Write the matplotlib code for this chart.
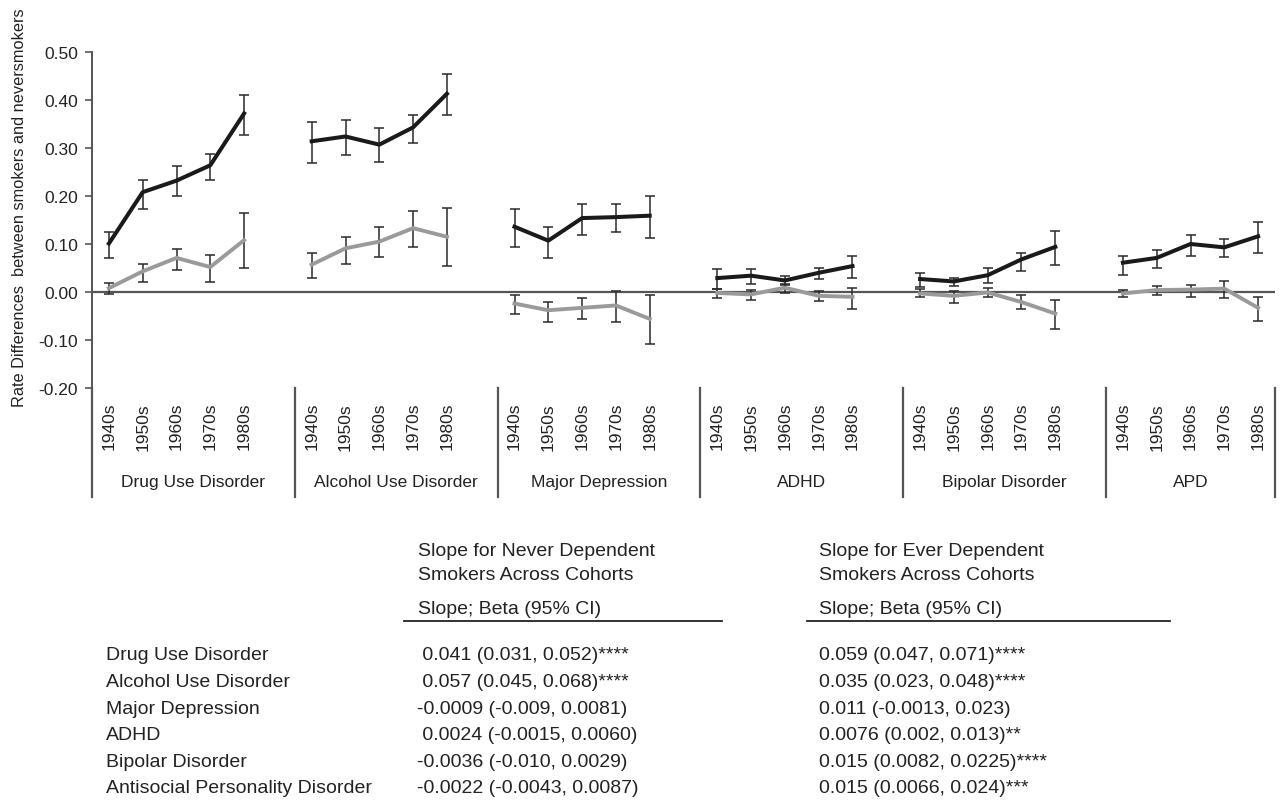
import matplotlib
matplotlib.use("Agg")
import matplotlib.pyplot as plt
import matplotlib.transforms as mtransforms

plt.rcParams['font.family'] = ['Liberation Sans', 'DejaVu Sans']

groups = ["Drug Use Disorder", "Alcohol Use Disorder", "Major Depression",
          "ADHD", "Bipolar Disorder", "APD"]
decades = ["1940s", "1950s", "1960s", "1970s", "1980s"]

# Ever dependent smokers (black)
ever_rd = [
    [0.101, 0.208, 0.232, 0.264, 0.372],
    [0.314, 0.324, 0.307, 0.343, 0.413],
    [0.136, 0.107, 0.154, 0.156, 0.159],
    [0.029, 0.034, 0.024, 0.040, 0.054],
    [0.027, 0.022, 0.035, 0.068, 0.094],
    [0.061, 0.071, 0.100, 0.093, 0.116]]
ever_lo = [
    [0.070, 0.172, 0.200, 0.234, 0.327],
    [0.269, 0.285, 0.271, 0.310, 0.369],
    [0.094, 0.070, 0.119, 0.125, 0.113],
    [0.007, 0.016, 0.014, 0.027, 0.029],
    [0.010, 0.012, 0.018, 0.044, 0.057],
    [0.036, 0.051, 0.076, 0.073, 0.082]]
ever_hi = [
    [0.124, 0.234, 0.262, 0.287, 0.411],
    [0.355, 0.359, 0.341, 0.369, 0.455],
    [0.172, 0.135, 0.183, 0.183, 0.201],
    [0.047, 0.047, 0.034, 0.051, 0.076],
    [0.040, 0.030, 0.051, 0.082, 0.127],
    [0.076, 0.087, 0.119, 0.110, 0.146]]

# Never dependent smokers (gray)
never_rd = [
    [0.008, 0.043, 0.071, 0.052, 0.108],
    [0.057, 0.091, 0.105, 0.133, 0.115],
    [-0.024, -0.038, -0.033, -0.028, -0.056],
    [-0.002, -0.005, 0.009, -0.008, -0.010],
    [-0.003, -0.008, -0.001, -0.021, -0.045],
    [-0.003, 0.004, 0.005, 0.007, -0.033]]
never_lo = [
    [-0.005, 0.020, 0.045, 0.020, 0.050],
    [0.029, 0.059, 0.073, 0.094, 0.054],
    [-0.046, -0.062, -0.056, -0.062, -0.109],
    [-0.013, -0.016, -0.003, -0.019, -0.036],
    [-0.010, -0.022, -0.010, -0.036, -0.077],
    [-0.010, -0.007, -0.010, -0.013, -0.061]]
never_hi = [
    [0.019, 0.059, 0.090, 0.078, 0.164],
    [0.082, 0.115, 0.135, 0.169, 0.174],
    [-0.007, -0.021, -0.012, 0.002, -0.007],
    [0.007, 0.004, 0.016, 0.002, 0.008],
    [0.007, 0.002, 0.009, -0.007, -0.017],
    [0.005, 0.012, 0.014, 0.023, -0.010]]

yticks = [0.50, 0.40, 0.30, 0.20, 0.10, 0.00, -0.10, -0.20]
ylabel = "Rate Differences  between smokers and neversmokers"

table_rows = ["Drug Use Disorder", "Alcohol Use Disorder", "Major Depression",
              "ADHD", "Bipolar Disorder", "Antisocial Personality Disorder"]
never_slopes = [" 0.041 (0.031, 0.052)****", " 0.057 (0.045, 0.068)****",
                "-0.0009 (-0.009, 0.0081)", " 0.0024 (-0.0015, 0.0060)",
                "-0.0036 (-0.010, 0.0029)", "-0.0022 (-0.0043, 0.0087)"]
ever_slopes = ["0.059 (0.047, 0.071)****", "0.035 (0.023, 0.048)****",
               "0.011 (-0.0013, 0.023)", "0.0076 (0.002, 0.013)**",
               "0.015 (0.0082, 0.0225)****", "0.015 (0.0066, 0.024)***"]
col_headers = [("Slope for Never Dependent", "Smokers Across Cohorts"),
               ("Slope for Ever Dependent", "Smokers Across Cohorts")]
sub_header = "Slope; Beta (95% CI)"

W, H = 1282, 804
fig = plt.figure(figsize=(W / 100, H / 100), dpi=100)

def fx(px):
    return px / W

def fy(py):
    return 1 - py / H

ax_l, ax_r, ax_t, ax_b = 92, 1275, 53, 389
ax = fig.add_axes([fx(ax_l), fy(ax_b), fx(ax_r - ax_l), (ax_b - ax_t) / H])

slots = 6
n_slots = slots * (len(groups) - 1) + len(decades)
xpos_all, xlab_all = [], []
for g in range(len(groups)):
    xs = [g * slots + i for i in range(len(decades))]
    xpos_all += xs
    xlab_all += decades
    ax.errorbar(xs, never_rd[g],
                yerr=[[m - l for m, l in zip(never_rd[g], never_lo[g])],
                      [h - m for m, h in zip(never_rd[g], never_hi[g])]],
                color='#9a9a9a', lw=2.8, ecolor='#2a2a2a', elinewidth=1.1,
                capsize=3.8, capthick=1.1, zorder=3)
    ax.errorbar(xs, ever_rd[g],
                yerr=[[m - l for m, l in zip(ever_rd[g], ever_lo[g])],
                      [h - m for m, h in zip(ever_rd[g], ever_hi[g])]],
                color='#1a1a1a', lw=2.9, ecolor='#2a2a2a', elinewidth=1.1,
                capsize=3.8, capthick=1.1, zorder=4)

ax.axhline(0, color='#555555', lw=1.6, zorder=2)
ax.set_xlim(-0.5, n_slots - 0.5)
ax.set_ylim(-0.20, 0.50)
ax.set_yticks(yticks)
ax.set_yticklabels([f"{v:.2f}" for v in yticks], fontsize=12.5, color='#222222')
ax.set_xticks(xpos_all)
ax.set_xticklabels(xlab_all, rotation=90, fontsize=12.5, color='#222222')
ax.tick_params(axis='x', length=0, pad=10)
ax.tick_params(axis='y', length=5, width=1.2, color='#555555', pad=5)
for s in ['top', 'right', 'bottom']:
    ax.spines[s].set_visible(False)
ax.spines['left'].set_color('#555555')
ax.spines['left'].set_linewidth(1.4)
ax.set_ylabel(ylabel, fontsize=11.8, color='#222222')
ax.yaxis.set_label_coords((27 - ax_l) / (ax_r - ax_l), (ax_b - 208) / (ax_b - ax_t))

trans = mtransforms.blended_transform_factory(ax.transData, ax.transAxes)
sep_bottom = -(498 - ax_b) / (ax_b - ax_t)
label_y = -(483 - ax_b) / (ax_b - ax_t)
for g in range(len(groups) + 1):
    xs = g * slots - 0.5 if g < len(groups) else n_slots - 0.5
    ax.plot([xs, xs], [0, sep_bottom], transform=trans, color='#555555',
            lw=1.6, clip_on=False)
for g, name in enumerate(groups):
    left = g * slots - 0.5
    right = min((g + 1) * slots - 0.5, n_slots - 0.5)
    ax.text((left + right) / 2, label_y, name, transform=trans, ha='center',
            va='center', fontsize=12.5, color='#222222')

# Table below
tfs = 14
tc = '#222222'
col_x = [417, 819]
fig.text(fx(col_x[0] + 1), fy(552), col_headers[0][0], fontsize=tfs, color=tc, va='center')
fig.text(fx(col_x[0] + 1), fy(575), col_headers[0][1], fontsize=tfs, color=tc, va='center')
fig.text(fx(col_x[1]), fy(552), col_headers[1][0], fontsize=tfs, color=tc, va='center')
fig.text(fx(col_x[1]), fy(575), col_headers[1][1], fontsize=tfs, color=tc, va='center')
fig.text(fx(col_x[0] + 1), fy(610), sub_header, fontsize=tfs, color=tc, va='center')
fig.text(fx(col_x[1]), fy(610), sub_header, fontsize=tfs, color=tc, va='center')
fig.add_artist(plt.Line2D([fx(404), fx(722)], [fy(622), fy(622)], color='#222222', lw=1.3))
fig.add_artist(plt.Line2D([fx(807), fx(1170)], [fy(622), fy(622)], color='#222222', lw=1.3))

row_y = [656, 682.7, 709.3, 736, 762.3, 789]
for yy, lab, a, b in zip(row_y, table_rows, never_slopes, ever_slopes):
    fig.text(fx(106), fy(yy), lab, fontsize=tfs, color=tc, va='center')
    fig.text(fx(col_x[0]), fy(yy), a, fontsize=tfs, color=tc, va='center')
    fig.text(fx(col_x[1]), fy(yy), b, fontsize=tfs, color=tc, va='center')

fig.savefig("out.png", dpi=100, facecolor='white')
